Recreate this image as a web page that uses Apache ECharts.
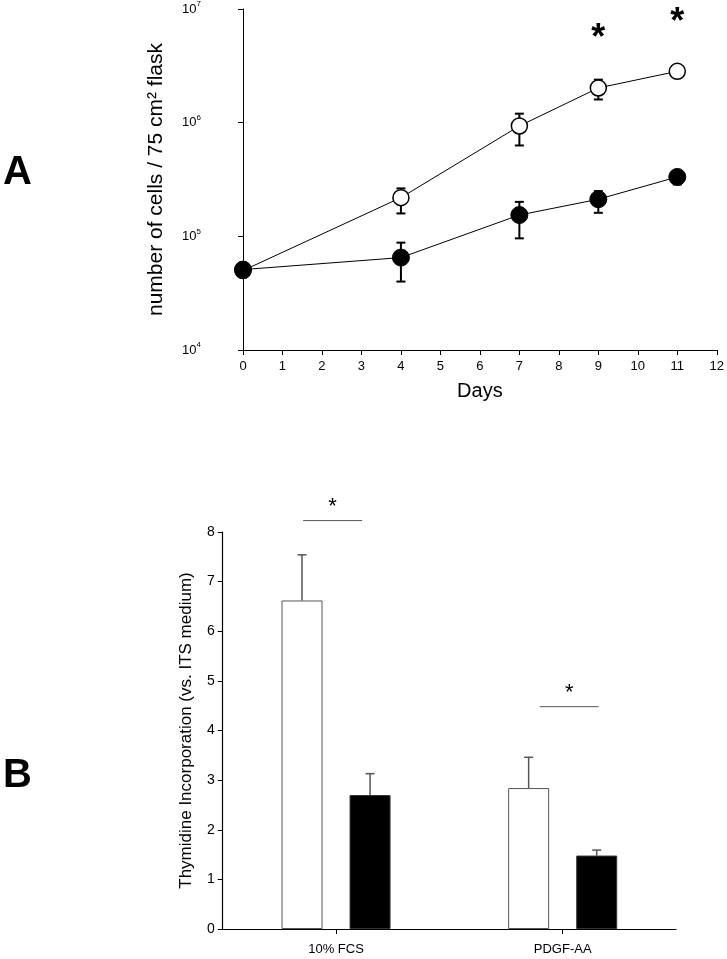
<!DOCTYPE html>
<html><head><meta charset="utf-8">
<script src="https://cdn.jsdelivr.net/npm/echarts@6/dist/echarts.min.js"></script>
<style>html,body{margin:0;padding:0;background:#fff}#c{width:727px;height:959px}</style>
</head><body><div id="c"></div>
<script>
// ---- Panel A data (cells per 75 cm2 flask) ----
const days = [0, 4, 7, 9, 11];
const openMean = [5.0e4, 2.19e5, 9.35e5, 2.02e6, 2.83e6];
const openLow  = [5.0e4, 1.59e5, 6.3e5, 1.6e6, 2.5e6];
const openHigh = [5.0e4, 2.64e5, 1.2e6, 2.39e6, 3.15e6];
const filledMean = [5.1e4, 6.5e4, 1.54e5, 2.12e5, 3.33e5];
const filledLow  = [5.1e4, 4.0e4, 9.6e4, 1.61e5, 2.86e5];
const filledHigh = [5.1e4, 8.8e4, 2.01e5, 2.5e5, 3.6e5];
const sigDays = [9, 11];
const sigLevels = [5.4e6, 7.45e6];

// ---- Panel B data (thymidine incorporation) ----
const categories = ['10% FCS', 'PDGF-AA'];
const whiteMean = [6.62, 2.84];
const whiteTop  = [7.54, 3.46];
const blackMean = [2.70, 1.48];
const blackTop  = [3.13, 1.59];
const sigCats = [0, 1];
const sigLineY = [8.23, 4.48];
const sigStarY = [8.50, 4.75];
const sigFrom = [-0.145, -0.101];
const sigTo = [0.115, 0.159];

const FONT = 'Liberation Sans, Arial, sans-serif';
const BAR_W = 41;
const BAR_GAP = 0.66;

const chart = echarts.init(document.getElementById('c'), null, {renderer: 'canvas'});

function errRenderTop(params, api) {
  const x = api.value(0), lo = api.value(1), hi = api.value(2);
  const a = api.coord([x, lo]), b = api.coord([x, hi]);
  const cap = 4.5;
  const st = {stroke: '#000', lineWidth: 2};
  return {type: 'group', children: [
    {type: 'line', shape: {x1: a[0], y1: a[1], x2: b[0], y2: b[1]}, style: st},
    {type: 'line', shape: {x1: a[0] - cap, y1: a[1], x2: a[0] + cap, y2: a[1]}, style: st},
    {type: 'line', shape: {x1: b[0] - cap, y1: b[1], x2: b[0] + cap, y2: b[1]}, style: st}
  ]};
}

function errRenderBar(sign) {
  return function (params, api) {
    const c = api.value(0), m = api.value(1), t = api.value(2);
    const off = sign * (BAR_W + BAR_W * BAR_GAP) / 2;
    const a = api.coord([c, m]), b = api.coord([c, t]);
    const x = a[0] + off;
    const cap = 4.5;
    const st = {stroke: '#555', lineWidth: 1.5};
    return {type: 'group', children: [
      {type: 'line', shape: {x1: x, y1: a[1], x2: x, y2: b[1]}, style: st},
      {type: 'line', shape: {x1: x - cap, y1: b[1], x2: x + cap, y2: b[1]}, style: st}
    ]};
  };
}

function sigRender(params, api) {
  const c = api.value(0), ly = api.value(1), sy = api.value(2), f0 = api.value(3), f1 = api.value(4);
  const band = api.size([1, 0])[0];
  const p = api.coord([c, ly]), s = api.coord([c, sy]);
  const x0 = p[0] + f0 * band, x1 = p[0] + f1 * band;
  return {type: 'group', children: [
    {type: 'line', shape: {x1: x0, y1: p[1], x2: x1, y2: p[1]}, style: {stroke: '#555', lineWidth: 1}},
    {type: 'text', x: (x0 + x1) / 2, y: s[1], style: {text: '*', fill: '#000', font: '22px ' + FONT, align: 'center', verticalAlign: 'middle'}}
  ]};
}

function starRender(params, api) {
  const s = api.coord([api.value(0), api.value(1)]);
  return {type: 'text', x: s[0], y: s[1], style: {text: '*', fill: '#000', font: 'bold 36px ' + FONT, align: 'center', verticalAlign: 'middle'}};
}

const option = {
  animation: false,
  backgroundColor: '#fff',
  textStyle: {fontFamily: FONT, color: '#000'},
  graphic: [
    {type: 'text', left: 3, top: 153, style: {text: 'A', font: 'bold 40px ' + FONT, fill: '#000'}},
    {type: 'text', left: 3, top: 756, style: {text: 'B', font: 'bold 40px ' + FONT, fill: '#000'}}
  ],
  grid: [
    {left: 243, right: 10, top: 8.5, bottom: 609},
    {left: 222.7, right: 51, top: 532, bottom: 30}
  ],
  xAxis: [
    {
      type: 'value', gridIndex: 0, min: 0, max: 12, interval: 1,
      axisLine: {show: true, onZero: false, lineStyle: {color: '#000', width: 1}},
      axisTick: {show: true, length: 5, lineStyle: {color: '#000'}},
      axisLabel: {fontSize: 13, color: '#000', margin: 10},
      splitLine: {show: false},
      name: 'Days', nameLocation: 'middle', nameGap: 31,
      nameTextStyle: {fontSize: 20, color: '#000'}
    },
    {
      type: 'category', gridIndex: 1, data: categories,
      axisLine: {show: true, onZero: false, lineStyle: {color: '#000', width: 1.2}},
      axisTick: {show: true, alignWithLabel: true, length: 5, lineStyle: {color: '#000'}},
      axisLabel: {fontSize: 13, color: '#000', margin: 14},
      splitLine: {show: false}
    }
  ],
  yAxis: [
    {
      type: 'log', gridIndex: 0, logBase: 10, min: 1e4, max: 1e7, offset: 36,
      axisLine: {show: true, lineStyle: {color: '#000', width: 1}},
      axisTick: {show: true, length: 5, lineStyle: {color: '#000'}},
      minorTick: {show: false},
      splitLine: {show: false},
      axisLabel: {
        margin: 6,
        formatter: function (v) { return '{b|10}{s|' + Math.round(Math.log10(v)) + '}'; },
        rich: {
          b: {fontSize: 13, color: '#000', lineHeight: 18},
          s: {fontSize: 8, color: '#000', lineHeight: 8, verticalAlign: 'top'}
        }
      },
      name: 'number of cells / 75 cm\u00B2 flask', nameLocation: 'middle', nameGap: 40,
      nameTextStyle: {fontSize: 21, color: '#000'}
    },
    {
      type: 'value', gridIndex: 1, min: 0, max: 8, interval: 1,
      axisLine: {show: true, lineStyle: {color: '#000', width: 1.2}},
      axisTick: {show: true, length: 5, lineStyle: {color: '#000'}},
      splitLine: {show: false},
      axisLabel: {fontSize: 14, color: '#000', margin: 8},
      name: 'Thymidine Incorporation (vs. ITS medium)', nameLocation: 'middle', nameGap: 28,
      nameTextStyle: {fontSize: 17, color: '#000'}
    }
  ],
  series: [
    {
      type: 'custom', xAxisIndex: 0, yAxisIndex: 0, z: 1,
      renderItem: errRenderTop,
      data: days.map((d, i) => [d, openLow[i], openHigh[i]]).filter(r => r[1] !== r[2])
    },
    {
      type: 'custom', xAxisIndex: 0, yAxisIndex: 0, z: 1,
      renderItem: errRenderTop,
      data: days.map((d, i) => [d, filledLow[i], filledHigh[i]]).filter(r => r[1] !== r[2])
    },
    {
      type: 'line', xAxisIndex: 0, yAxisIndex: 0, z: 3,
      data: days.map((d, i) => [d, openMean[i]]),
      symbol: 'circle', symbolSize: 16,
      lineStyle: {color: '#000', width: 1},
      itemStyle: {color: '#fff', borderColor: '#000', borderWidth: 1.5}
    },
    {
      type: 'line', xAxisIndex: 0, yAxisIndex: 0, z: 4,
      data: days.map((d, i) => [d, filledMean[i]]),
      symbol: 'circle', symbolSize: 17,
      lineStyle: {color: '#000', width: 1},
      itemStyle: {color: '#000', borderColor: '#000', borderWidth: 1}
    },
    {
      type: 'custom', xAxisIndex: 0, yAxisIndex: 0, z: 5,
      renderItem: starRender,
      data: sigDays.map((d, i) => [d, sigLevels[i]])
    },
    {
      type: 'bar', xAxisIndex: 1, yAxisIndex: 1, z: 2,
      data: whiteMean, barWidth: BAR_W, barGap: (BAR_GAP * 100) + '%',
      itemStyle: {color: '#fff', borderColor: '#555', borderWidth: 1}
    },
    {
      type: 'bar', xAxisIndex: 1, yAxisIndex: 1, z: 2,
      data: blackMean, barWidth: BAR_W,
      itemStyle: {color: '#000', borderColor: '#333', borderWidth: 1}
    },
    {
      type: 'custom', xAxisIndex: 1, yAxisIndex: 1, z: 1,
      renderItem: errRenderBar(-1),
      data: categories.map((c, i) => [i, whiteMean[i], whiteTop[i]])
    },
    {
      type: 'custom', xAxisIndex: 1, yAxisIndex: 1, z: 1,
      renderItem: errRenderBar(1),
      data: categories.map((c, i) => [i, blackMean[i], blackTop[i]])
    },
    {
      type: 'custom', xAxisIndex: 1, yAxisIndex: 1, z: 3, clip: false,
      renderItem: sigRender,
      data: sigCats.map((c, i) => [c, sigLineY[i], sigStarY[i], sigFrom[i], sigTo[i]])
    }
  ]
};
chart.setOption(option);
</script>
</body></html>
